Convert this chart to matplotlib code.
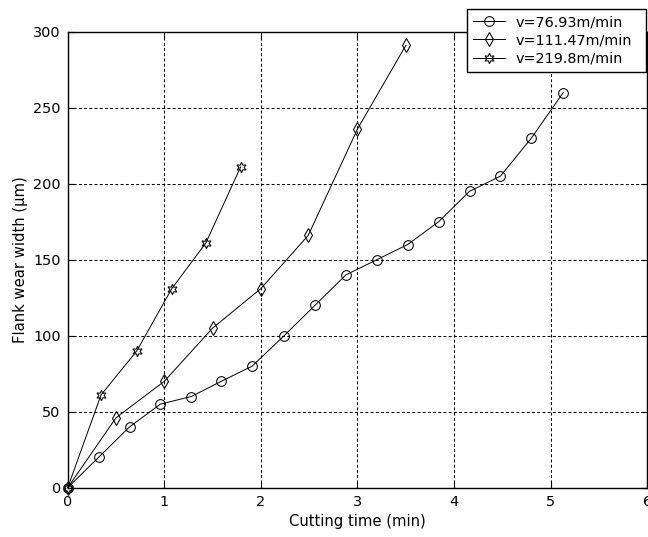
import matplotlib
matplotlib.use("Agg")
import matplotlib.pyplot as plt

# Flank wear growth for three cutting speeds
t_v1 = [0, 0.32, 0.64, 0.96, 1.28, 1.59, 1.91, 2.24, 2.56, 2.88, 3.2, 3.52,
        3.84, 4.16, 4.48, 4.8, 5.13]
vb_v1 = [0, 20, 40, 55, 60, 70, 80, 100, 120, 140, 150, 160, 175, 195, 205,
         230, 260]

t_v2 = [0, 0.5, 1.0, 1.5, 2.0, 2.49, 3.0, 3.5]
vb_v2 = [0, 46, 70, 105, 131, 166, 236, 291]

t_v3 = [0, 0.345, 0.715, 1.078, 1.43, 1.79]
vb_v3 = [0, 61, 90, 131, 161, 211]

labels = ["v=76.93m/min", "v=111.47m/min", "v=219.8m/min"]
x_ticks = [0, 1, 2, 3, 4, 5, 6]
y_ticks = [0, 50, 100, 150, 200, 250, 300]

plt.rcParams["font.family"] = ["DejaVu Sans"]
W, H = 648, 537
fig = plt.figure(figsize=(W / 100, H / 100), dpi=100)
ax = fig.add_axes([67.7 / W, 1 - 487.7 / H, (647.3 - 67.7) / W, (487.7 - 31.7) / H])

hexagram = (6, 1, 0)
common = dict(color="black", lw=0.7, mfc="none", mec="black", mew=0.75,
              clip_on=False, zorder=3)
ax.plot(t_v1, vb_v1, marker="o", ms=7, label=labels[0], **common)
ax.plot(t_v2, vb_v2, marker="d", ms=7, label=labels[1], **common)
ax.plot(t_v3, vb_v3, marker=hexagram, ms=7.5, label=labels[2], **common)

ax.set_xlim(0, 6)
ax.set_ylim(0, 300)
ax.set_xticks(x_ticks)
ax.set_yticks(y_ticks)
ax.tick_params(direction="in", length=4, width=0.8, labelsize=10.4, pad=5,
               top=True, right=True)
ax.grid(True, color="black", linestyle=(0, (2.8, 2.2)), linewidth=0.75)
for s in ax.spines.values():
    s.set_linewidth(1.0)
    s.set_color("black")

ax.set_xlabel("Cutting time (min)", fontsize=10.6, labelpad=4)
ax.set_ylabel("Flank wear width (\u03bcm)", fontsize=10.6, labelpad=4)

leg = fig.legend(loc="upper left",
                 bbox_to_anchor=(466.7 / W, 1 - 79 / H, (646 - 466.7) / W, 70 / H),
                 mode="expand", borderaxespad=0, fontsize=10.4,
                 handlelength=2.2, handletextpad=0.7, labelspacing=0.28,
                 borderpad=0.45, fancybox=False, framealpha=1,
                 edgecolor="black")
leg.get_frame().set_linewidth(1.0)

fig.savefig("out.png", dpi=100)
